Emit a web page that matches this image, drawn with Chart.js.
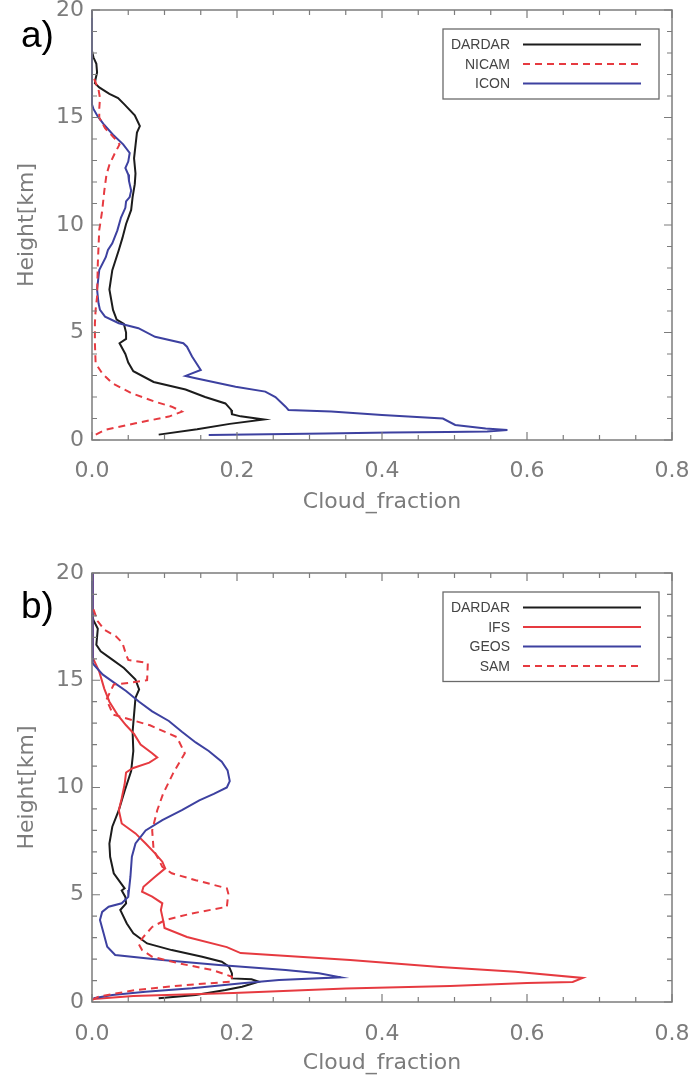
<!DOCTYPE html>
<html>
<head>
<meta charset="utf-8">
<script src="https://cdn.jsdelivr.net/npm/chart.js@4.4.0/dist/chart.umd.min.js"></script>
<style>
  html, body { margin: 0; padding: 0; background: #fff; }
  canvas { display: block; }
</style>
</head>
<body>
<canvas id="panel-a" width="691" height="538"></canvas>
<canvas id="panel-b" width="691" height="538"></canvas>
<script>
// cloud fraction profiles, height in km

// panel a
const dardarA_h  = [18.1, 17.8, 17.5, 17.1, 16.8, 16.6, 16.4, 16.1, 15.9, 15.6, 15.1, 14.6, 14.3, 13.7, 13.1, 12.4, 11.9, 11.3, 10.7, 10.05, 9.4, 8.84, 7.9, 7.0, 6.05, 5.6, 5.4, 5.0, 4.7, 4.5, 4.0, 3.6, 3.2, 2.7, 2.35, 2.0, 1.7, 1.4, 1.2, 1.1, 0.95, 0.75, 0.5, 0.25];
const dardarA_cf = [0.0, 0.002, 0.006, 0.007, 0.005, 0.004, 0.01, 0.024, 0.036, 0.045, 0.059, 0.066, 0.062, 0.06, 0.058, 0.06, 0.059, 0.056, 0.054, 0.047, 0.042, 0.037, 0.028, 0.024, 0.029, 0.034, 0.044, 0.047, 0.047, 0.038, 0.046, 0.05, 0.057, 0.085, 0.129, 0.156, 0.184, 0.192, 0.193, 0.205, 0.237, 0.19, 0.145, 0.092];

const nicam_h  = [16.8, 16.3, 15.9, 15.4, 15.0, 14.5, 14.0, 13.75, 13.3, 12.8, 12.35, 11.6, 10.65, 9.77, 8.2, 6.67, 6.05, 5.43, 4.5, 3.57, 3.1, 2.64, 2.17, 1.78, 1.55, 1.32, 1.09, 0.78, 0.47, 0.2];
const nicam_cf = [0.003, 0.009, 0.011, 0.01, 0.01, 0.018, 0.032, 0.038, 0.031, 0.024, 0.02, 0.017, 0.014, 0.01, 0.008, 0.007, 0.005, 0.004, 0.004, 0.005, 0.014, 0.028, 0.055, 0.087, 0.11, 0.124, 0.106, 0.06, 0.018, 0.002];

const icon_h  = [20, 17, 15.6, 15.4, 15.05, 14.65, 14.2, 13.75, 13.35, 12.95, 12.65, 12.35, 12.05, 11.6, 11.3, 11.1, 10.8, 10.35, 9.75, 9.15, 8.84, 8.5, 7.9, 7.0, 6.36, 6.05, 5.74, 5.43, 5.2, 4.8, 4.5, 4.34, 3.88, 3.26, 2.98, 2.87, 2.48, 2.25, 2.0, 1.55, 1.4, 1.32, 1.16, 1.0, 0.7, 0.54, 0.47, 0.4, 0.37, 0.35, 0.3, 0.23];
const icon_cf = [0.0, 0.0, 0.0, 0.002, 0.008, 0.017, 0.029, 0.043, 0.052, 0.05, 0.046, 0.05, 0.051, 0.054, 0.052, 0.047, 0.046, 0.04, 0.035, 0.028, 0.022, 0.019, 0.01, 0.007, 0.009, 0.011, 0.018, 0.037, 0.064, 0.087, 0.126, 0.131, 0.138, 0.15, 0.129, 0.143, 0.198, 0.239, 0.253, 0.267, 0.271, 0.33, 0.4, 0.484, 0.501, 0.543, 0.573, 0.545, 0.49, 0.41, 0.322, 0.161];

// panel b
const dardarB_h  = [18.1, 17.8, 17.4, 16.65, 16.35, 15.96, 15.57, 15.03, 14.57, 14.18, 13.4, 12.6, 11.7, 10.77, 9.84, 8.94, 8.17, 7.39, 6.77, 6.0, 5.53, 5.3, 5.2, 4.9, 4.6, 4.29, 3.66, 3.2, 2.73, 2.42, 2.11, 1.88, 1.65, 1.33, 1.1, 1.06, 0.95, 0.71, 0.56, 0.33, 0.17];
const dardarB_cf = [0.0, 0.002, 0.008, 0.006, 0.012, 0.028, 0.044, 0.06, 0.065, 0.06, 0.058, 0.056, 0.057, 0.054, 0.045, 0.037, 0.028, 0.024, 0.025, 0.03, 0.04, 0.045, 0.041, 0.046, 0.047, 0.039, 0.048, 0.057, 0.076, 0.11, 0.152, 0.179, 0.189, 0.193, 0.193, 0.22, 0.23, 0.207, 0.184, 0.143, 0.092];

const ifs_h  = [20, 16.05, 15.4, 14.6, 14.0, 13.4, 12.9, 12.5, 12.0, 11.6, 11.4, 11.16, 10.9, 10.7, 10.15, 9.5, 8.94, 8.32, 7.86, 7.39, 6.93, 6.54, 6.23, 5.84, 5.37, 5.14, 4.91, 4.6, 4.29, 3.98, 3.66, 3.45, 3.03, 2.56, 2.28, 1.96, 1.63, 1.41, 1.12, 0.93, 0.88, 0.75, 0.63, 0.42, 0.28, 0.14];
const ifs_cf = [0.0, 0.001, 0.01, 0.017, 0.024, 0.035, 0.047, 0.058, 0.067, 0.083, 0.09, 0.079, 0.056, 0.047, 0.045, 0.041, 0.037, 0.041, 0.06, 0.074, 0.087, 0.097, 0.101, 0.087, 0.071, 0.069, 0.083, 0.097, 0.095, 0.097, 0.099, 0.1, 0.131, 0.186, 0.205, 0.356, 0.48, 0.584, 0.677, 0.663, 0.6, 0.494, 0.35, 0.195, 0.057, 0.002];

const geos_h  = [20, 15.8, 15.7, 15.26, 14.95, 14.5, 14.0, 13.55, 13.1, 12.6, 12.1, 11.7, 11.2, 10.8, 10.3, 10.0, 9.7, 9.4, 8.94, 8.48, 8.0, 7.39, 6.77, 5.84, 5.22, 4.9, 4.6, 4.44, 4.2, 3.82, 3.2, 2.58, 2.19, 1.96, 1.72, 1.49, 1.34, 1.15, 1.02, 0.87, 0.64, 0.48, 0.33, 0.17];
const geos_cf = [0.0, 0.001, 0.003, 0.015, 0.028, 0.047, 0.065, 0.083, 0.106, 0.124, 0.143, 0.161, 0.179, 0.187, 0.19, 0.186, 0.168, 0.148, 0.124, 0.097, 0.074, 0.06, 0.055, 0.053, 0.051, 0.05, 0.041, 0.023, 0.014, 0.011, 0.016, 0.021, 0.032, 0.097, 0.175, 0.267, 0.313, 0.343, 0.258, 0.207, 0.138, 0.074, 0.028, 0.002];

const sam_h  = [18.3, 17.75, 17.36, 17.05, 16.74, 16.2, 15.95, 15.8, 15.0, 14.9, 14.8, 14.1, 13.4, 12.9, 12.35, 11.6, 10.67, 9.7, 8.94, 8.0, 7.08, 6.77, 6.3, 6.0, 5.68, 5.3, 5.06, 4.44, 4.13, 3.82, 3.5, 3.04, 2.73, 2.42, 2.11, 1.8, 1.49, 1.18, 0.95, 0.79, 0.56, 0.25, 0.09];
const sam_cf = [0.002, 0.008, 0.017, 0.033, 0.042, 0.047, 0.05, 0.077, 0.076, 0.056, 0.03, 0.02, 0.029, 0.08, 0.117, 0.128, 0.112, 0.098, 0.09, 0.083, 0.085, 0.09, 0.097, 0.11, 0.143, 0.186, 0.188, 0.186, 0.138, 0.101, 0.083, 0.071, 0.064, 0.069, 0.083, 0.12, 0.166, 0.193, 0.193, 0.129, 0.06, 0.009, 0.0];

const xTicks = [0, 0.2, 0.4, 0.6, 0.8];
const yTicks = [0, 5, 10, 15, 20];

const BLACK = '#1c1c1c';
const RED = '#e63a40';
const BLUE = '#3d41a0';
const GRAY = '#7c7c7c';
const FONT = "'DejaVu Sans', sans-serif";

function profile(hs, cfs) {
    return hs.map((h, i) => ({ x: cfs[i], y: h }));
}

function line(label, hs, cfs, color, dashed) {
    return {
        label: label,
        data: profile(hs, cfs),
        borderColor: color,
        borderWidth: 2,
        borderDash: dashed ? [7, 5] : [],
        showLine: true,
        pointRadius: 0,
        tension: 0,
        clip: false
    };
}

// frame with inward ticks on all four sides
const frameTicks = {
    id: 'frameTicks',
    afterDatasetsDraw(chart) {
        const { ctx, chartArea: a, scales: { x, y } } = chart;
        ctx.save();
        ctx.strokeStyle = GRAY;
        ctx.lineWidth = 1.5;
        ctx.strokeRect(a.left, a.top, a.right - a.left, a.bottom - a.top);
        ctx.lineWidth = 1.2;
        ctx.beginPath();
        for (let i = 0; i <= 16; i++) {
            const px = x.getPixelForValue(i * 0.05);
            const len = i % 4 === 0 ? 8 : 5;
            ctx.moveTo(px, a.bottom); ctx.lineTo(px, a.bottom - len);
            ctx.moveTo(px, a.top); ctx.lineTo(px, a.top + len);
        }
        for (let h = 0; h <= 20; h++) {
            const py = y.getPixelForValue(h);
            const len = h % 5 === 0 ? 8 : 5;
            ctx.moveTo(a.left, py); ctx.lineTo(a.left + len, py);
            ctx.moveTo(a.right, py); ctx.lineTo(a.right - len, py);
        }
        ctx.stroke();
        ctx.restore();
    }
};

// boxed legend: label on the left, line sample on the right
const boxLegend = {
    id: 'boxLegend',
    afterDraw(chart, args, opts) {
        const { ctx, chartArea: a } = chart;
        const sets = chart.data.datasets;
        const w = 216, pad = 15.5, step = 19.5;
        const h = pad * 2 + step * (sets.length - 1);
        const left = a.right - 13 - w, top = a.top + 19;
        ctx.save();
        ctx.fillStyle = '#fff';
        ctx.fillRect(left, top, w, h);
        ctx.strokeStyle = '#6a6a6a';
        ctx.lineWidth = 1.3;
        ctx.strokeRect(left, top, w, h);
        ctx.font = "14px 'Liberation Sans', sans-serif";
        ctx.textAlign = 'right';
        ctx.textBaseline = 'middle';
        opts.order.forEach((idx, row) => {
            const ds = sets[idx];
            const cy = top + pad + row * step;
            ctx.fillStyle = '#444';
            ctx.fillText(ds.label, left + 67, cy + 1);
            ctx.strokeStyle = ds.borderColor;
            ctx.lineWidth = 2;
            ctx.setLineDash(ds.borderDash);
            ctx.beginPath();
            ctx.moveTo(left + 80, cy);
            ctx.lineTo(left + 198, cy);
            ctx.stroke();
        });
        ctx.setLineDash([]);
        ctx.font = "37px 'Liberation Sans', sans-serif";
        ctx.textAlign = 'left';
        ctx.textBaseline = 'alphabetic';
        ctx.fillStyle = '#000';
        ctx.fillText(opts.tag, 21, opts.tagY);
        ctx.restore();
    }
};

function makePanel(id, datasets, tag, tagY, padTop, axisHeight, xPad, titlePad, order) {
    return new Chart(document.getElementById(id), {
        type: 'scatter',
        data: { datasets: datasets },
        options: {
            responsive: false,
            animation: false,
            devicePixelRatio: 1,
            layout: { padding: { left: 0, right: 19, top: padTop, bottom: 0 } },
            plugins: {
                legend: { display: false },
                tooltip: { enabled: false },
                boxLegend: { tag: tag, tagY: tagY, order: order }
            },
            scales: {
                x: {
                    type: 'linear',
                    min: 0, max: 0.8,
                    afterBuildTicks: s => { s.ticks = xTicks.map(v => ({ value: v })); },
                    afterFit: s => { s.height = axisHeight; s.paddingLeft = 0; s.paddingRight = 0; },
                    grid: { display: false, drawTicks: false },
                    border: { display: false },
                    ticks: {
                        padding: xPad,
                        autoSkip: false,
                        maxRotation: 0,
                        color: GRAY,
                        font: { family: FONT, size: 22 },
                        callback: v => v.toFixed(1)
                    },
                    title: {
                        display: true,
                        text: 'Cloud_fraction',
                        color: GRAY,
                        font: { family: FONT, size: 22 },
                        padding: { top: 0, bottom: titlePad }
                    }
                },
                y: {
                    type: 'linear',
                    min: 0, max: 20,
                    afterBuildTicks: s => { s.ticks = yTicks.map(v => ({ value: v })); },
                    afterFit: s => { s.width = 92; s.paddingTop = 0; s.paddingBottom = 0; },
                    grid: { display: false, drawTicks: false },
                    border: { display: false },
                    ticks: {
                        padding: 8,
                        color: GRAY,
                        font: { family: FONT, size: 22 }
                    },
                    title: {
                        display: true,
                        text: 'Height[km]',
                        color: GRAY,
                        font: { family: FONT, size: 22 },
                        padding: { top: 14, bottom: 0 }
                    }
                }
            }
        },
        plugins: [frameTicks, boxLegend]
    });
}

makePanel('panel-a', [
    line('NICAM', nicam_h, nicam_cf, RED, true),
    line('ICON', icon_h, icon_cf, BLUE, false),
    line('DARDAR', dardarA_h, dardarA_cf, BLACK, false)
], 'a)', 47, 10, 98, 18, 23, [2, 0, 1]);

makePanel('panel-b', [
    line('SAM', sam_h, sam_cf, RED, true),
    line('GEOS', geos_h, geos_cf, BLUE, false),
    line('IFS', ifs_h, ifs_cf, RED, false),
    line('DARDAR', dardarB_h, dardarB_cf, BLACK, false)
], 'b)', 80, 35, 74, 19, 0, [3, 2, 1, 0]);
</script>
</body>
</html>
